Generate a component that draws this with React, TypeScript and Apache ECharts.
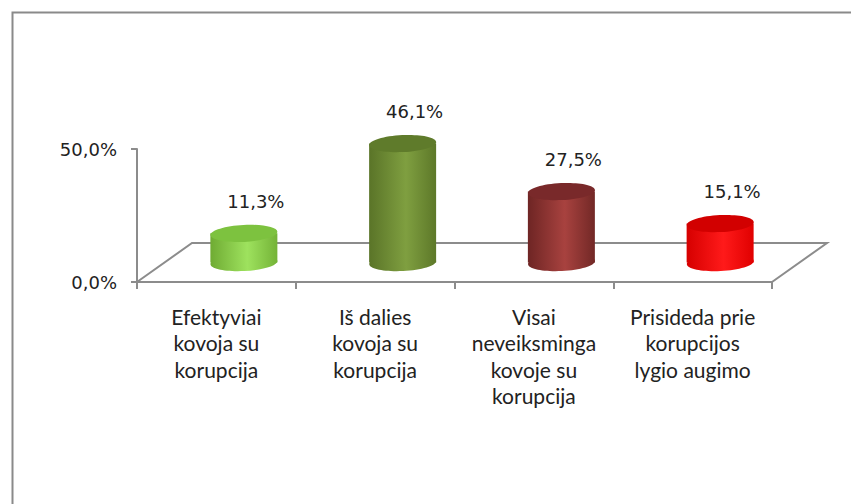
import React, { useEffect, useRef } from "react";
import * as echarts from "echarts";

const categories = [
  "Efektyviai\nkovoja su\nkorupcija",
  "Iš dalies\nkovoja su\nkorupcija",
  "Visai\nneveiksminga\nkovoje su\nkorupcija",
  "Prisideda prie\nkorupcijos\nlygio augimo",
];
const values = [11.3, 46.1, 27.5, 15.1];
const valueLabels = ["11,3%", "46,1%", "27,5%", "15,1%"];
const yTicks = [0, 50];

// body gradient stops [edge, highlight, edge] and top colour per bar
const bodyEdgeL = ["#6fab33", "#5a7428", "#6e2524", "#d60000"];
const bodyLight = ["#9ee25e", "#7f9f40", "#a8423f", "#ff1a1a"];
const bodyEdgeR = ["#74b337", "#5d7829", "#722826", "#e00000"];
const topColors = ["#7dc23f", "#5f7b2b", "#79292a", "#d20000"];

const DEPTH_X = 55;
const DEPTH_Y = -39;

export default function App() {
  const ref = useRef<HTMLDivElement>(null);
  useEffect(() => {
    if (!ref.current) return;
    const chart = echarts.init(ref.current, null, { renderer: "svg" });
    const axisGray = "#8c8c8c";
    const option: any = {
      animation: false,
      backgroundColor: "#ffffff",
      graphic: [
        {
          type: "rect",
          left: 10,
          top: 10,
          shape: { x: 0, y: 0, width: 900, height: 600 },
          style: { fill: "none", stroke: "#8a8a8a", lineWidth: 2 },
          silent: true,
          z: -10,
        },
      ],
      grid: { left: 137, top: 149, width: 635, height: 133 },
      xAxis: {
        type: "category",
        data: categories,
        boundaryGap: true,
        axisLine: { show: true, lineStyle: { color: axisGray, width: 2 } },
        axisTick: { show: true, length: 7, interval: 0, lineStyle: { color: axisGray, width: 2 } },
        axisLabel: {
          interval: 0,
          margin: 21,
          color: "#222222",
          fontFamily: "Lato",
          fontSize: 21,
          lineHeight: 26.5,
          align: "center",
        },
        splitLine: { show: false },
      },
      yAxis: {
        type: "value",
        min: 0,
        max: 50,
        interval: 50,
        axisLine: { show: true, lineStyle: { color: axisGray, width: 2 } },
        axisTick: { show: true, length: 6, lineStyle: { color: axisGray, width: 2 } },
        axisLabel: {
          margin: 20,
          color: "#222222",
          fontFamily: "DejaVu Sans",
          fontSize: 18,
          formatter: (v: number) =>
            yTicks.includes(v) ? v.toFixed(1).replace(".", ",") + "%" : "",
        },
        splitLine: { show: false },
      },
      series: [
        {
          type: "custom",
          data: [[0, 0]],
          z: 1,
          renderItem: (params: any, api: any) => {
            const cs = params.coordSys;
            const x0 = cs.x;
            const x1 = cs.x + cs.width;
            const y0 = cs.y + cs.height;
            return {
              type: "polyline",
              shape: {
                points: [
                  [x0, y0],
                  [x0 + DEPTH_X, y0 + DEPTH_Y],
                  [x1 + DEPTH_X, y0 + DEPTH_Y],
                  [x1, y0],
                ],
              },
              style: { stroke: axisGray, lineWidth: 2, fill: "none" },
            };
          },
        },
        {
          type: "custom",
          z: 2,
          data: values.map((v, i) => [i, v]),
          renderItem: (params: any, api: any) => {
            const idx = api.value(0);
            const val = api.value(1);
            const i = params.dataIndex;
            const base = api.coord([idx, 0]);
            const top = api.coord([idx, val]);
            const bandW = api.size([1, 0])[0];
            const rx = bandW * 0.211;
            const ry = 8.5;
            const cx = base[0] + DEPTH_X / 2;
            const by = base[1] + DEPTH_Y / 2;
            const h = (base[1] - top[1]) * 0.97;
            const ty = by - h;
            const grad = new echarts.graphic.LinearGradient(0, 0, 1, 0, [
              { offset: 0, color: bodyEdgeL[i] },
              { offset: 0.55, color: bodyLight[i] },
              { offset: 1, color: bodyEdgeR[i] },
            ]);
            const rot = 0.05;
            return {
              type: "group",
              children: [
                {
                  type: "ellipse",
                  shape: { cx, cy: by, rx, ry },
                  rotation: rot,
                  originX: cx,
                  originY: by,
                  style: { fill: grad },
                },
                {
                  type: "rect",
                  shape: { x: cx - rx, y: ty, width: rx * 2, height: h },
                  style: { fill: grad },
                },
                {
                  type: "ellipse",
                  shape: { cx, cy: ty, rx, ry },
                  rotation: rot,
                  originX: cx,
                  originY: ty,
                  style: { fill: topColors[i] },
                },
                {
                  type: "text",
                  x: cx + 12,
                  y: ty - 32,
                  style: {
                    text: valueLabels[i],
                    fontFamily: "DejaVu Sans",
                    fontSize: 18,
                    fill: "#222222",
                    align: "center",
                    verticalAlign: "middle",
                  },
                },
              ],
            };
          },
        },
      ],
    };
    chart.setOption(option);
    return () => chart.dispose();
  }, []);
  return (
    <div
      ref={ref}
      style={{ position: "fixed", left: 0, top: 0, width: 851, height: 504 }}
    />
  );
}
